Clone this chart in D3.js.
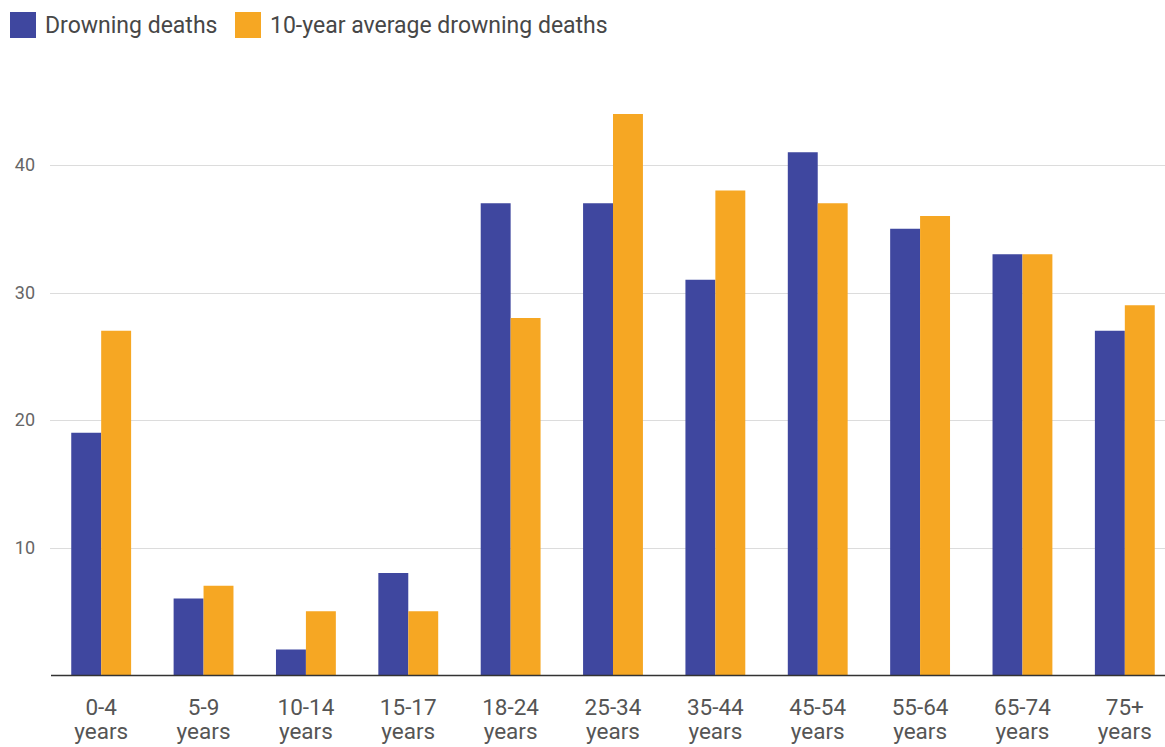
<!DOCTYPE html>
<html>
<head>
<meta charset="utf-8">
<script src="https://cdn.jsdelivr.net/npm/d3@7"></script>
<style>
  html, body { margin: 0; padding: 0; background: #fff; }
  svg { display: block; font-family: Roboto, "Noto Sans", sans-serif; }
</style>
</head>
<body>
<svg id="chart" width="1165" height="747"></svg>
<script>
// Age groups and drowning death counts
const categories = ["0-4", "5-9", "10-14", "15-17", "18-24", "25-34", "35-44", "45-54", "55-64", "65-74", "75+"];
const drowningDeaths = [19, 6, 2, 8, 37, 37, 31, 41, 35, 33, 27];
const tenYearAverage = [27, 7, 5, 5, 28, 44, 38, 37, 36, 33, 29];
const yTicks = [10, 20, 30, 40];
const seriesNames = ["Drowning deaths", "10-year average drowning deaths"];
const seriesColors = ["#3f479f", "#f6a723"];

const svg = d3.select("#chart");
const W = 1165, H = 747;
const plot = { left: 50, right: 1176, top: 50, bottom: 675 };

const x = d3.scaleBand()
  .domain(categories)
  .range([plot.left, plot.right])
  .paddingInner(0)
  .paddingOuter(0);

const x1 = d3.scaleBand()
  .domain([0, 1])
  .range([0, x.bandwidth()])
  .paddingInner(0)
  .paddingOuter(0.71);

const y = d3.scaleLinear()
  .domain([0, 49])
  .range([plot.bottom, plot.bottom - 49 * 12.75]);

// Horizontal gridlines
svg.append("g")
  .selectAll("line")
  .data(yTicks)
  .join("line")
  .attr("x1", plot.left)
  .attr("x2", W)
  .attr("y1", d => Math.round(y(d)) + 0.5)
  .attr("y2", d => Math.round(y(d)) + 0.5)
  .attr("stroke", "#dcdcdc")
  .attr("stroke-width", 1.2);

// Y axis labels
const yAxis = d3.axisLeft(y).tickValues(yTicks).tickSize(0).tickPadding(0);
const yg = svg.append("g").attr("transform", "translate(35,0)").call(yAxis);
yg.select(".domain").remove();
yg.selectAll("text")
  .attr("fill", "#666")
  .attr("font-size", 18)
  .attr("font-family", "Roboto, sans-serif");

// Bars
const rows = categories.map((c, i) => ({ c, vals: [drowningDeaths[i], tenYearAverage[i]] }));
const groups = svg.append("g")
  .selectAll("g")
  .data(rows)
  .join("g")
  .attr("transform", d => `translate(${x(d.c)},0)`);

groups.selectAll("rect")
  .data(d => d.vals.map((v, k) => ({ v, k })))
  .join("rect")
  .attr("x", d => x1(d.k))
  .attr("width", x1.bandwidth())
  .attr("y", d => y(d.v))
  .attr("height", d => y(0) - y(d.v))
  .attr("fill", d => seriesColors[d.k]);

// Baseline
svg.append("line")
  .attr("x1", 51).attr("x2", W)
  .attr("y1", plot.bottom + 0.5).attr("y2", plot.bottom + 0.5)
  .attr("stroke", "#333").attr("stroke-width", 1.5);

// X axis labels (two lines)
const xl = svg.append("g")
  .selectAll("text")
  .data(categories)
  .join("text")
  .attr("x", d => x(d) + x.bandwidth() / 2)
  .attr("y", 715)
  .attr("text-anchor", "middle")
  .attr("fill", "#555")
  .attr("font-size", 22.5);
xl.append("tspan").attr("x", d => x(d) + x.bandwidth() / 2).text(d => d);
xl.append("tspan").attr("x", d => x(d) + x.bandwidth() / 2).attr("dy", 24).text("years");

// Legend
const legend = svg.append("g");
const legendItems = [
  { name: seriesNames[0], color: seriesColors[0], x: 10 },
  { name: seriesNames[1], color: seriesColors[1], x: 235 }
];
const li = legend.selectAll("g")
  .data(legendItems)
  .join("g")
  .attr("transform", d => `translate(${d.x},12)`);
li.append("rect")
  .attr("width", 26).attr("height", 26)
  .attr("fill", d => d.color);
li.append("text")
  .attr("x", 35).attr("y", 21)
  .attr("fill", "#474747")
  .attr("font-size", 23)
  .text(d => d.name);
</script>
</body>
</html>
